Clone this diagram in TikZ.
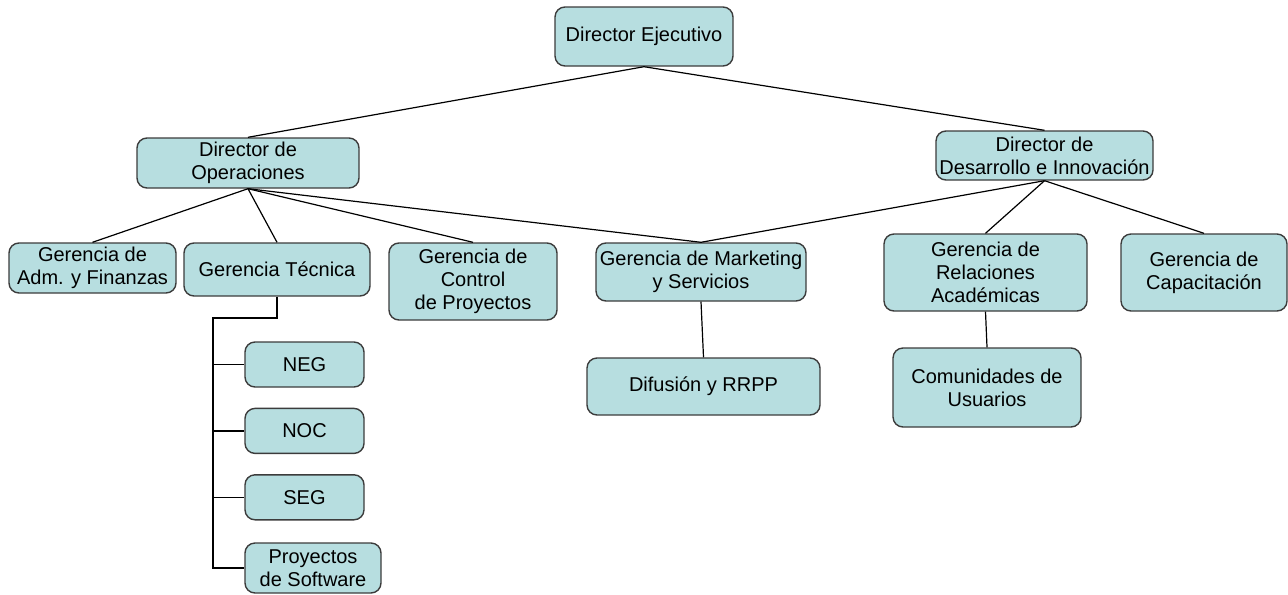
\documentclass[tikz,border=0pt]{standalone}
\usepackage{fontspec}
\setmainfont{Liberation Sans}
\definecolor{boxfill}{RGB}{183, 222, 224}
\definecolor{boxline}{RGB}{60, 60, 60}
\usetikzlibrary{positioning, calc}
\tikzset{
  orgnode/.style={rounded corners=5pt, draw=boxline, line width=0.7pt, fill=boxfill, align=center, inner sep=1pt, font=\fontsize{10}{11.5}\selectfont},
  subnode/.style={orgnode, minimum width=59.5pt, minimum height=22.5pt},
  orgline/.style={draw=black, line width=0.6pt},
}
\begin{document}
\begin{tikzpicture}[x=0.5pt, y=-0.5pt, node distance=10pt]
  \useasboundingbox (0,0) rectangle (1288,594);
  % top level
  \node[orgnode, minimum width=89pt, minimum height=29.5pt] (dej) at (644,36.5) {Director Ejecutivo};
  \node[orgnode, minimum width=111pt, minimum height=25pt] (dop) at (248,163) {Director de\\Operaciones};
  \node[orgnode, minimum width=108.5pt, minimum height=24.5pt] (ddi) at (1044.5,155.5) {Director de\\Desarrollo e Innovación};
  % gerencias
  \node[orgnode, minimum width=83.5pt, minimum height=25pt] (adm) at (92.5,268) {Gerencia de\\Adm. y Finanzas};
  \node[orgnode, minimum width=93pt, minimum height=26.5pt] (tec) at (277,269.5) {Gerencia Técnica};
  \node[orgnode, minimum width=84pt, minimum height=38.5pt] (ctl) at (473,281.5) {Gerencia de\\Control\\de Proyectos};
  \node[orgnode, minimum width=105pt, minimum height=29pt] (mkt) at (701,272) {Gerencia de Marketing\\y Servicios};
  \node[orgnode, minimum width=101.5pt, minimum height=38.5pt] (rac) at (985.5,272.5) {Gerencia de\\Relaciones\\Académicas};
  \node[orgnode, minimum width=83pt, minimum height=38.5pt] (cap) at (1204,272.5) {Gerencia de\\Capacitación};
  % lower level
  \node[orgnode, minimum width=116.5pt, minimum height=28.5pt] (dif) at (703.5,386.5) {Difusión y RRPP};
  \node[orgnode, minimum width=94pt, minimum height=39.5pt] (com) at (987,387.5) {Comunidades de\\Usuarios};
  \node[subnode] (neg) at (304.5,364.5) {NEG};
  \node[subnode, below=10pt of neg] (noc) {NOC};
  \node[subnode, below=10pt of noc] (seg) {SEG};
  \node[orgnode, minimum width=68pt, minimum height=25pt] (psw) at (313,568) {Proyectos\\de Software};
  % connectors
  \draw[orgline] (dej.south) -- (dop.north);
  \draw[orgline] (dej.south) -- (ddi.north);
  \foreach \n in {adm, tec, ctl, mkt}
    \draw[orgline] (dop.south) -- (\n.north);
  \foreach \n in {mkt, rac, cap}
    \draw[orgline] (ddi.south) -- (\n.north);
  \draw[orgline] (mkt.south) -- (dif.north);
  \draw[orgline] (rac.south) -- (com.north);
  \coordinate (bus) at (213,318);
  \draw[orgline] (tec.south) |- (bus) -- (bus |- psw.west) -- (psw.west);
  \foreach \n in {neg, noc, seg}
    \draw[orgline] (bus |- \n.west) -- (\n.west);
\end{tikzpicture}
\end{document}
